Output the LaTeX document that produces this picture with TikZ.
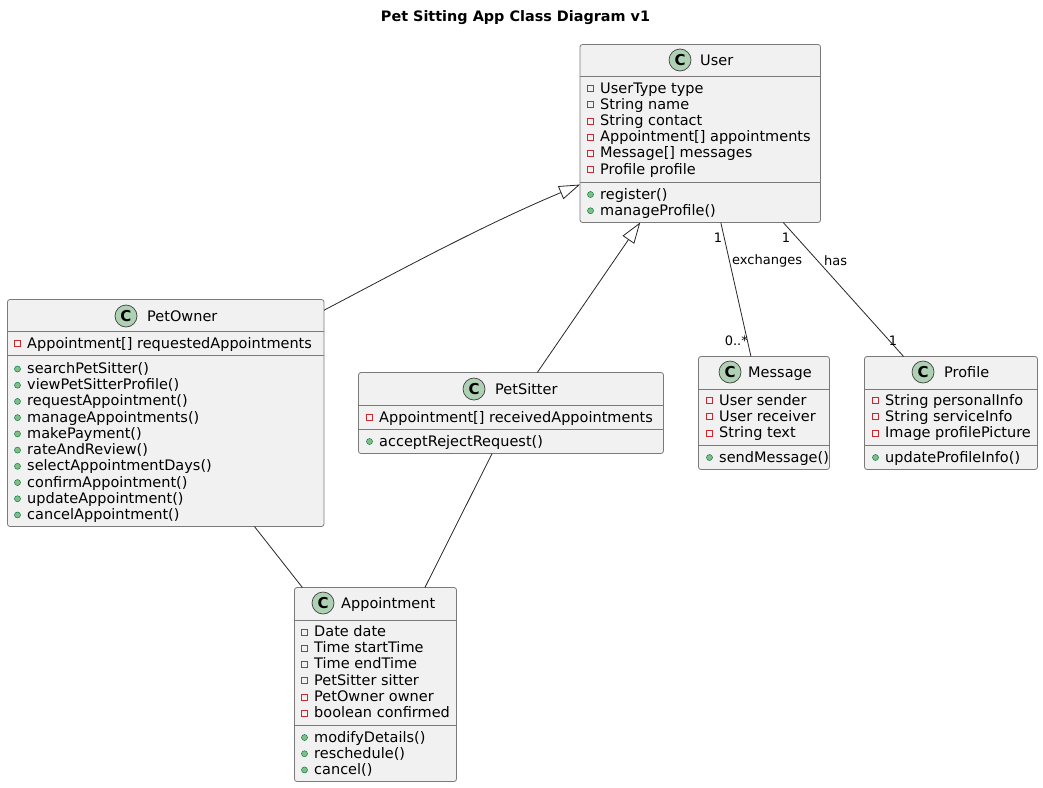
\documentclass[tikz,border=0pt]{standalone}
\usepackage{fontspec}
\setmainfont{DejaVu Sans}
\usetikzlibrary{arrows.meta}
\definecolor{boxfill}{HTML}{F1F1F1}
\definecolor{boxline}{HTML}{7A7A7A}
\definecolor{spotfill}{HTML}{ADD1B2}
\definecolor{privred}{HTML}{C82930}
\definecolor{pubfill}{HTML}{84BE84}
\definecolor{publine}{HTML}{038048}
\tikzstyle{classbox} = [rectangle, rounded corners=2.5pt,
outer sep=0pt,
draw=boxline,
line width=0.8pt,
fill=boxfill]
\tikzstyle{spot} = [circle,
minimum size=22pt,
inner sep=0pt,
draw=black!75,
line width=0.7pt,
fill=spotfill,
font=\fontsize{15}{15}\selectfont\bfseries]
\tikzstyle{member} = [anchor=base west, inner sep=0pt, font=\fontsize{14.5}{16}\selectfont]
\tikzstyle{privicon} = [rectangle, minimum size=6pt, inner sep=0pt, draw=privred, line width=0.7pt]
\tikzstyle{pubicon} = [circle, minimum size=6pt, inner sep=0pt, draw=publine, line width=0.5pt, fill=pubfill]
\tikzstyle{assoc} = [black!85, line width=0.8pt]
\tikzstyle{extends} = [assoc, -{Triangle[open, fill=white, length=21pt, width=14pt, line width=0.8pt]}]
\tikzstyle{tag} = [inner sep=0pt, font=\fontsize{13}{13}\selectfont]

% box: name, x0, y0, x1, y1, first rule, second rule
\newcommand{\classbody}[7]{
\node (#1) [classbox, minimum width=#4pt-#2pt, minimum height=#5pt-#3pt]
  at ({(#2+#4)/2},{(#3+#5)/2}) {};
\draw [boxline, line width=0.8pt] (#1.west |- 0,#6) -- (#1.east |- 0,#6);
\draw [boxline, line width=0.8pt] (#1.west |- 0,#7) -- (#1.east |- 0,#7);
}
% header: name, circle x, title x, y, title
\newcommand{\classhead}[5]{
\node (#1spot) [spot] at (#2,#4) {C};
\node (#1name) [member] at (#3,#4+5) {#5};
}
% rows: name, style, text x, first baseline, rows
\newcommand{\rows}[5]{
\foreach \txt [count=\i] in {#5} {
\node (#1#2\i) [member] at (#3,{#4+(\i-1)*16.22}) {\txt};
\node (#1#2icon\i) [#2icon] at (#3-9.5,{#4+(\i-1)*16.22-4.5}) {};
}
}

\begin{document}
\begin{tikzpicture}[x=1pt,y=-1pt]
\useasboundingbox (0,0) rectangle (1043,787);

\node (title) [inner sep=0pt, font=\fontsize{14.4}{14}\selectfont\bfseries] at (515.5,18) {Pet Sitting App Class Diagram v1};

\classbody{user}{580}{44.5}{820.5}{222.5}{76.5}{182.5}
\classhead{user}{680}{700}{60}{User}
\rows{user}{priv}{600}{93}{UserType type,String name,String contact,Appointment[] appointments,Message[] messages,Profile profile}
\rows{user}{pub}{600}{199}{register(),manageProfile()}

\classbody{owner}{7.5}{299.5}{324}{526.5}{331}{355}
\classhead{owner}{126}{147}{316}{PetOwner}
\rows{owner}{priv}{27}{348}{Appointment[] requestedAppointments}
\rows{owner}{pub}{27}{373.5}{searchPetSitter(),viewPetSitterProfile(),requestAppointment(),manageAppointments(),makePayment(),rateAndReview(),selectAppointmentDays(),confirmAppointment(),updateAppointment(),cancelAppointment()}

\classbody{sitter}{358.5}{372.5}{663.5}{453.5}{405}{429}
\classhead{sitter}{474}{495}{389}{PetSitter}
\rows{sitter}{priv}{379}{422}{Appointment[] receivedAppointments}
\rows{sitter}{pub}{379}{446}{acceptRejectRequest()}

\classbody{message}{698.5}{356.5}{829.5}{469.5}{389}{445}
\classhead{message}{730}{748}{372}{Message}
\rows{message}{priv}{719}{405}{User sender,User receiver,String text}
\rows{message}{pub}{719}{462}{sendMessage()}

\classbody{profile}{864.5}{356.5}{1037.5}{469.5}{389}{445}
\classhead{profile}{923}{944}{372}{Profile}
\rows{profile}{priv}{885}{405}{String personalInfo,String serviceInfo,Image profilePicture}
\rows{profile}{pub}{885}{462}{updateProfileInfo()}

\classbody{appt}{294.5}{587.5}{456.5}{781.5}{620}{725}
\classhead{appt}{323}{341}{603}{Appointment}
\rows{appt}{priv}{314}{636.5}{Date date,Time startTime,Time endTime,PetSitter sitter,PetOwner owner,boolean confirmed}
\rows{appt}{pub}{314}{742}{modifyDetails(),reschedule(),cancel()}

\draw [extends] (owner.33.1) .. controls (395,273) and (480,226.5) .. (user.203);
\draw [extends] (sitter.57.3) -- (user.-124.4);
\draw [assoc] (user.-77.3) -- (message.103);
\draw [assoc] (user.-47) -- (profile.130.35);
\draw [assoc] (owner.-52.85) -- (appt.127.9);
\draw [assoc] (sitter.-115.1) -- (appt.63.9);

\node (msgone) [tag] at (718,238) {1};
\node (msgmany) [tag, anchor=east] at (748,341) {0..*};
\node (msglabel) [tag, anchor=west] at (732,261) {exchanges};
\node (profone) [tag] at (786,238) {1};
\node (proftwo) [tag] at (893,341) {1};
\node (proflabel) [tag, anchor=west] at (824,261) {has};

\end{tikzpicture}
\end{document}
